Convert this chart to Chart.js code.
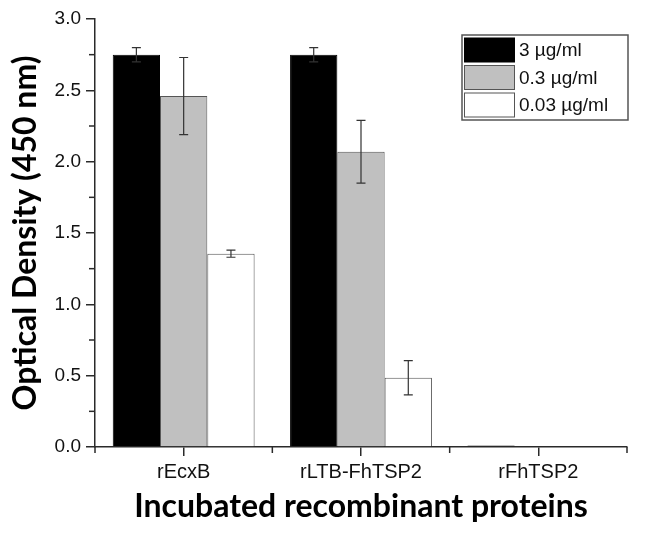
<!DOCTYPE html>
<html>
<head>
<meta charset="utf-8">
<script src="https://cdn.jsdelivr.net/npm/chart.js@4.4.1/dist/chart.umd.min.js"></script>
<style>
  body { margin: 0; background: #fff; }
  #wrap { width: 650px; height: 533px; }
</style>
</head>
<body>
<div id="wrap"><canvas id="chart-canvas"></canvas></div>
<script>
// ELISA optical density chart
let proteins = ["rEcxB", "rLTB-FhTSP2", "rFhTSP2"];
let concLabels = ["3 µg/ml", "0.3 µg/ml", "0.03 µg/ml"];

let od3 = [2.75, 2.75, 0.01];
let od03 = [2.46, 2.07, 0.0];
let od003 = [1.355, 0.485, 0.0];

let err3 = [0.05, 0.05, 0];
let err03 = [0.27, 0.22, 0];
let err003 = [0.025, 0.12, 0];

let yTicks = [0, 0.5, 1.0, 1.5, 2.0, 2.5, 3.0];

let fills = ["#000000", "#c0c0c0", "#ffffff"];
let borders = ["#000000", "#555555", "#555555"];

let seriesValues = [od3, od03, od003];
let seriesErrors = [err3, err03, err003];

let axisColor = "#2a2a2a";
let tickFont = "'Liberation Sans', Arial, sans-serif";

// error bars + minor ticks + legend box
let extras = {
  id: "extras",
  afterDatasetsDraw(chart) {
    let c = chart.ctx;
    let y = chart.scales.y;
    c.save();
    c.strokeStyle = "#333";
    c.lineWidth = 1.2;
    chart.data.datasets.forEach(function (ds, i) {
      let meta = chart.getDatasetMeta(i);
      meta.data.forEach(function (bar, j) {
        let e = seriesErrors[i][j];
        if (!e) return;
        let v = ds.data[j];
        let top = y.getPixelForValue(v + e);
        let bot = y.getPixelForValue(v - e);
        c.beginPath();
        c.moveTo(bar.x, top);
        c.lineTo(bar.x, bot);
        c.moveTo(bar.x - 4.5, top);
        c.lineTo(bar.x + 4.5, top);
        c.moveTo(bar.x - 4.5, bot);
        c.lineTo(bar.x + 4.5, bot);
        c.stroke();
      });
    });
    c.restore();
  },
  afterDraw(chart) {
    let c = chart.ctx;
    let y = chart.scales.y;
    let x = chart.scales.x;
    let area = chart.chartArea;
    c.save();
    c.strokeStyle = axisColor;
    c.lineWidth = 1.5;
    // minor y ticks
    for (let k = 0; k < yTicks.length - 1; k++) {
      let py = y.getPixelForValue((yTicks[k] + yTicks[k + 1]) / 2);
      c.beginPath();
      c.moveTo(area.left - 6, py);
      c.lineTo(area.left, py);
      c.stroke();
    }
    // minor x ticks between categories and at ends
    for (let k = 0; k <= proteins.length; k++) {
      let px = x.getPixelForValue(k - 0.5);
      c.beginPath();
      c.moveTo(px, area.bottom);
      c.lineTo(px, area.bottom + 6);
      c.stroke();
    }
    // legend
    let lx = 462, ly = 35, lw = 166, lh = 85;
    c.fillStyle = "#fff";
    c.fillRect(lx, ly, lw, lh);
    c.strokeStyle = "#555";
    c.lineWidth = 1.5;
    c.strokeRect(lx, ly, lw, lh);
    c.font = "19px " + tickFont;
    c.textBaseline = "middle";
    concLabels.forEach(function (lab, i) {
      let ry = ly + 3 + i * 27.5;
      c.fillStyle = fills[i];
      c.fillRect(lx + 2.5, ry, 50, 24);
      c.strokeStyle = borders[i];
      c.lineWidth = 1;
      c.strokeRect(lx + 2.5, ry, 50, 24);
      c.fillStyle = "#111";
      c.fillText(lab, lx + 57, ry + 13);
    });
    c.restore();
  },
};

let chart = document.getElementById("chart-canvas").getContext("2d");

let chartData = {
  labels: proteins,
  datasets: seriesValues.map(function (vals, i) {
    return {
      label: concLabels[i],
      data: vals,
      backgroundColor: fills[i],
      borderColor: borders[i],
      borderWidth: 1,
      categoryPercentage: 0.8,
      barPercentage: 1.0,
    };
  }),
};

let chart1 = new Chart(chart, {
  type: "bar",
  data: chartData,
  plugins: [extras],
  options: {
    responsive: true,
    maintainAspectRatio: false,
    animation: false,
    layout: { padding: { top: 19, right: 23, left: 0, bottom: 0 } },
    plugins: { legend: { display: false }, tooltip: { enabled: false } },
    scales: {
      x: {
        grid: {
          offset: false,
          drawOnChartArea: false,
          drawTicks: true,
          tickLength: 9,
          color: axisColor,
          lineWidth: 1.5,
        },
        border: { color: axisColor, width: 1.5 },
        ticks: {
          color: "#111",
          padding: 4,
          font: { family: tickFont, size: 20 },
        },
        title: {
          display: true,
          text: "Incubated recombinant proteins",
          color: "#000",
          font: { family: "Lato, sans-serif", size: 32, weight: "bold" },
          padding: { top: 6, bottom: 7 },
        },
        afterFit(scale) {
          scale.height = 86;
        },
      },
      y: {
        min: 0,
        max: 3,
        afterBuildTicks(scale) {
          scale.ticks = yTicks.map(function (v) {
            return { value: v };
          });
        },
        grid: {
          drawOnChartArea: false,
          drawTicks: true,
          tickLength: 9,
          color: axisColor,
          lineWidth: 1.5,
        },
        border: { color: axisColor, width: 1.5 },
        ticks: {
          color: "#111",
          padding: 5,
          font: { family: tickFont, size: 19 },
          callback: function (v) {
            return Number(v).toFixed(1);
          },
        },
        title: {
          display: true,
          text: "Optical Density (450 nm)",
          color: "#000",
          font: { family: "Lato, sans-serif", size: 32, weight: "bold" },
          padding: { top: 6, bottom: 0 },
        },
        afterFit(scale) {
          scale.width = 95;
        },
      },
    },
  },
});
</script>
</body>
</html>
